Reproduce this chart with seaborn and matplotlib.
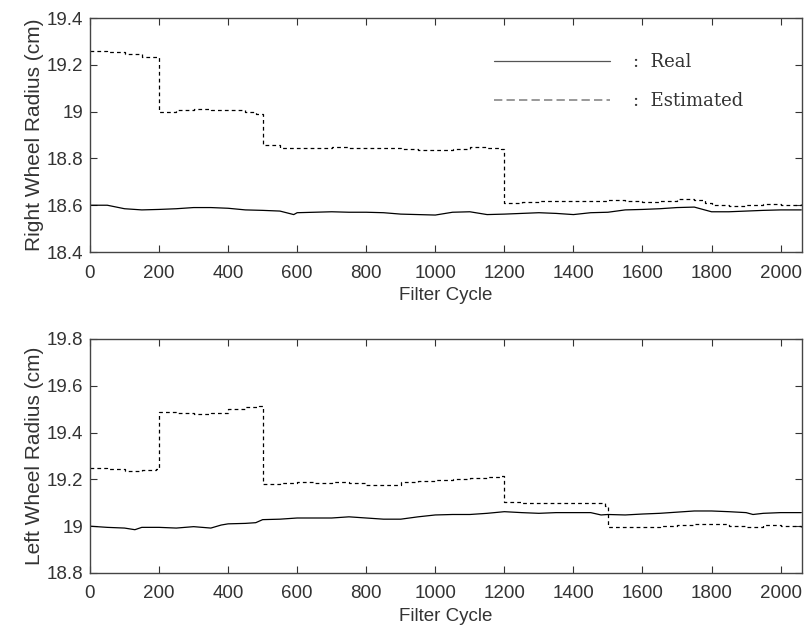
import numpy as np
import pandas as pd
import matplotlib
matplotlib.use("Agg")
import matplotlib.pyplot as plt
from matplotlib.lines import Line2D
from matplotlib.ticker import FuncFormatter
import seaborn as sns

# Right wheel: real radius (cm) over filter cycles
right_real_x = [0, 50, 100, 150, 200, 250, 300, 350, 400, 450, 500, 550, 590, 600, 650,
                700, 750, 800, 850, 900, 950, 1000, 1050, 1100, 1150, 1200, 1250, 1300,
                1350, 1400, 1450, 1500, 1550, 1600, 1650, 1700, 1750, 1800, 1850, 1900,
                1950, 2000, 2060]
right_real_y = [18.600, 18.600, 18.585, 18.580, 18.582, 18.585, 18.590, 18.590, 18.587,
                18.580, 18.578, 18.575, 18.560, 18.568, 18.570, 18.572, 18.570, 18.570,
                18.568, 18.562, 18.560, 18.558, 18.570, 18.572, 18.560, 18.562, 18.565,
                18.568, 18.565, 18.560, 18.568, 18.570, 18.580, 18.582, 18.585, 18.590,
                18.592, 18.572, 18.572, 18.575, 18.578, 18.580, 18.580]

# Right wheel: estimated radius
right_est_x = [0, 50, 100, 150, 180, 200, 250, 300, 350, 400, 450, 480, 500, 550, 600,
               650, 700, 750, 800, 850, 900, 950, 1000, 1050, 1100, 1150, 1190, 1200,
               1250, 1300, 1350, 1400, 1450, 1500, 1550, 1600, 1650, 1700, 1750, 1780,
               1800, 1850, 1900, 1950, 2000, 2060]
right_est_y = [19.258, 19.255, 19.245, 19.235, 19.232, 19.000, 19.005, 19.010, 19.008,
               19.005, 18.998, 18.990, 18.858, 18.845, 18.843, 18.845, 18.848, 18.845,
               18.843, 18.845, 18.840, 18.838, 18.835, 18.842, 18.850, 18.845, 18.840,
               18.610, 18.615, 18.618, 18.620, 18.618, 18.620, 18.622, 18.618, 18.615,
               18.620, 18.625, 18.622, 18.610, 18.600, 18.598, 18.603, 18.605, 18.602,
               18.605]

# Left wheel: real radius
left_real_x = [0, 50, 100, 130, 150, 200, 250, 300, 350, 380, 400, 450, 480, 500, 550,
               600, 650, 700, 750, 800, 850, 900, 950, 1000, 1050, 1100, 1150, 1200,
               1250, 1300, 1350, 1400, 1450, 1480, 1500, 1550, 1600, 1650, 1700, 1750,
               1800, 1850, 1900, 1920, 1950, 2000, 2060]
left_real_y = [19.000, 18.995, 18.992, 18.985, 18.995, 18.995, 18.992, 18.998, 18.992,
               19.005, 19.010, 19.012, 19.015, 19.028, 19.030, 19.035, 19.035, 19.035,
               19.040, 19.035, 19.030, 19.030, 19.040, 19.048, 19.050, 19.050, 19.055,
               19.062, 19.058, 19.055, 19.058, 19.058, 19.058, 19.048, 19.050, 19.048,
               19.052, 19.055, 19.060, 19.065, 19.065, 19.062, 19.058, 19.050, 19.055,
               19.058, 19.058]

# Left wheel: estimated radius
left_est_x = [0, 50, 100, 150, 190, 200, 250, 300, 350, 400, 450, 490, 500, 550, 600,
              650, 700, 750, 800, 850, 900, 950, 1000, 1050, 1100, 1150, 1190, 1200,
              1250, 1300, 1350, 1400, 1450, 1490, 1500, 1550, 1600, 1650, 1700, 1750,
              1800, 1850, 1900, 1950, 2000, 2060]
left_est_y = [19.250, 19.245, 19.235, 19.240, 19.245, 19.490, 19.485, 19.480, 19.482,
              19.500, 19.510, 19.515, 19.180, 19.185, 19.188, 19.185, 19.188, 19.185,
              19.175, 19.178, 19.188, 19.195, 19.198, 19.200, 19.205, 19.210, 19.215,
              19.105, 19.100, 19.098, 19.100, 19.100, 19.098, 19.088, 18.998, 18.995,
              18.998, 19.002, 19.005, 19.008, 19.008, 19.000, 18.998, 19.005, 19.000,
              18.998]

x_ticks = [0, 200, 400, 600, 800, 1000, 1200, 1400, 1600, 1800, 2000]
right_yticks = [18.4, 18.6, 18.8, 19.0, 19.2, 19.4]
left_yticks = [18.8, 19.0, 19.2, 19.4, 19.6, 19.8]

sns.set_style("ticks")
plt.rcParams['font.family'] = ['Liberation Sans', 'DejaVu Sans']
plt.rcParams['text.color'] = '#333333'
plt.rcParams['axes.labelcolor'] = '#333333'
plt.rcParams['xtick.color'] = '#333333'
plt.rcParams['ytick.color'] = '#333333'

fig = plt.figure(figsize=(8.05, 6.39), dpi=100)
ax_top = fig.add_axes([0.1118, 0.6056, 0.8845, 0.3662])
ax_bot = fig.add_axes([0.1118, 0.1033, 0.8845, 0.3662])

panels = [
    (ax_top, right_real_x, right_real_y, right_est_x, right_est_y, right_yticks,
     'Right Wheel Radius (cm)'),
    (ax_bot, left_real_x, left_real_y, left_est_x, left_est_y, left_yticks,
     'Left Wheel Radius (cm)'),
]

for ax, rx, ry, ex, ey, yticks, ylabel in panels:
    real_df = pd.DataFrame({'cycle': rx, 'radius': ry})
    est_df = pd.DataFrame({'cycle': ex, 'radius': ey})
    sns.lineplot(data=real_df, x='cycle', y='radius', ax=ax, color='black',
                 linewidth=0.9, estimator=None, sort=False)
    sns.lineplot(data=est_df, x='cycle', y='radius', ax=ax, color='black',
                 linewidth=0.9, estimator=None, sort=False, drawstyle='steps-post',
                 dashes=False, linestyle=(0, (3, 2.5)))
    ax.set_xlim(0, 2062)
    ax.set_ylim(yticks[0], yticks[-1])
    ax.set_xticks(x_ticks)
    ax.set_yticks(yticks)
    ax.yaxis.set_major_formatter(FuncFormatter(lambda v, p: f'{v:g}'))
    ax.tick_params(direction='in', length=5, width=0.8, top=True, right=True,
                   labelsize=13.5, pad=5)
    ax.tick_params(axis='x', pad=9)
    ax.set_xlabel('Filter Cycle', fontsize=13.5, labelpad=4)
    ax.set_ylabel(ylabel, fontsize=15, labelpad=2)
    for sp in ax.spines.values():
        sp.set_color('#444444')
        sp.set_linewidth(1.0)
    if ax.get_legend() is not None:
        ax.get_legend().remove()

handles = [Line2D([], [], color='#555555', linewidth=0.9),
           Line2D([], [], color='#888888', linewidth=1.2, linestyle=(0, (5, 2.5)))]
ax_top.legend(handles, [':  Real', ':  Estimated'], loc='upper left',
              bbox_to_anchor=(0.568, 0.85), frameon=False, handlelength=6.4,
              handletextpad=1.3, labelspacing=1.15, borderpad=0, borderaxespad=0,
              prop={'family': 'DejaVu Serif', 'size': 13})

fig.savefig('out.png', dpi=100)
